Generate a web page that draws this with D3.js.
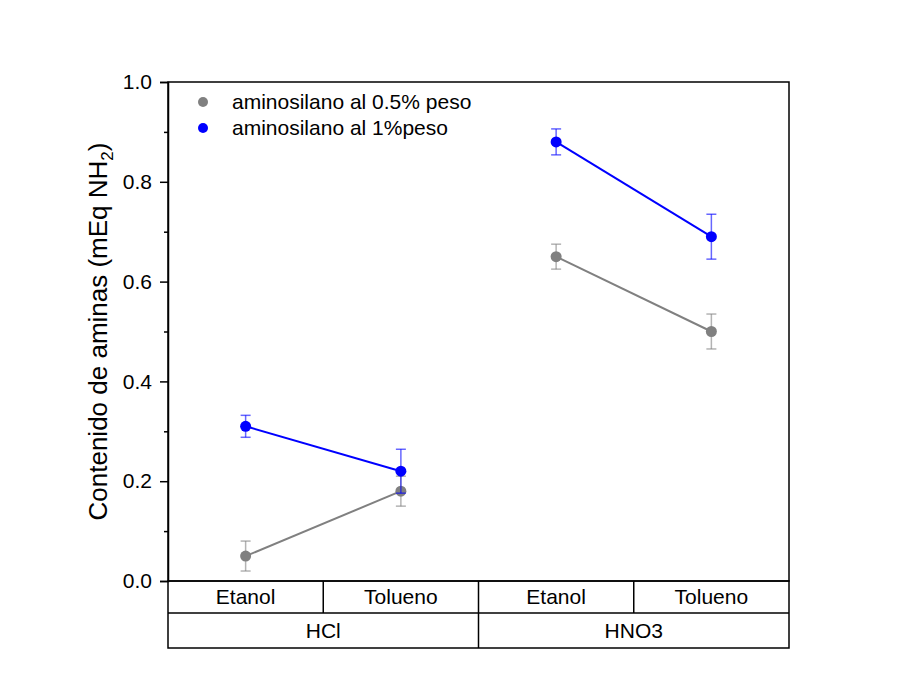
<!DOCTYPE html>
<html><head><meta charset="utf-8">
<script src="https://cdn.jsdelivr.net/npm/d3@7/dist/d3.min.js"></script>
<style>body{margin:0;background:#fff;}svg{display:block;font-family:"Liberation Sans",Arial,sans-serif;}</style>
</head><body><svg id="c" width="900" height="688"></svg>
<script>
const solvents = ["Etanol","Tolueno","Etanol","Tolueno"];
const acids = ["HCl","HNO3"];
const seriesNames = ["aminosilano al 0.5% peso","aminosilano al 1%peso"];
const seriesColors = ["#808080","#0000ff"];
const vals05 = [0.05,0.18,0.65,0.50];
const err05 = [0.03,0.03,0.025,0.035];
const vals1 = [0.31,0.22,0.88,0.69];
const err1 = [0.022,0.044,0.026,0.045];
const yTicks = [0,0.2,0.4,0.6,0.8,1.0];
const yMinor = [0.1,0.3,0.5,0.7,0.9];

const svg = d3.select("#c");
const L=168,R=789,T=82,B=581;
const x = d3.scaleBand().domain(d3.range(4)).range([L,R]);
const y = d3.scaleLinear().domain([0,1]).range([B,T]);

// frame
svg.append("rect").attr("x",L).attr("y",T).attr("width",R-L).attr("height",B-T)
  .attr("fill","none").attr("stroke","#000").attr("stroke-width",1.5);

// y axis
const ya = svg.append("g").attr("transform",`translate(${L},0)`)
  .call(d3.axisLeft(y).tickValues(yTicks).tickFormat(d3.format(".1f")).tickSize(8).tickPadding(8));
ya.select(".domain").attr("stroke-width",1.5);
ya.selectAll(".tick line").attr("stroke-width",1.5);
ya.selectAll("text").attr("font-size",21).attr("fill","#000").attr("font-family","Liberation Sans, Arial, sans-serif");
const ym = svg.append("g").attr("transform",`translate(${L},0)`)
  .call(d3.axisLeft(y).tickValues(yMinor).tickFormat("").tickSize(4));
ym.select(".domain").remove();
ym.selectAll(".tick line").attr("stroke-width",1.5);

// y title
const yt = svg.append("text").attr("transform",`translate(107,${(T+B)/2}) rotate(-90)`)
  .attr("text-anchor","middle").attr("font-size",26).attr("fill","#000");
yt.append("tspan").text("Contenido de aminas (mEq NH");
yt.append("tspan").attr("font-size",17).attr("dy",6).text("2");
yt.append("tspan").attr("dy",-6).text(")");

// table under axis
const row1B=613, row2B=648;
const tbl = svg.append("g").attr("stroke","#000").attr("stroke-width",1.5).attr("fill","none");
tbl.append("rect").attr("x",L).attr("y",B).attr("width",R-L).attr("height",row2B-B);
tbl.append("line").attr("x1",L).attr("x2",R).attr("y1",row1B).attr("y2",row1B);
[1,2,3].forEach(i=>{
  const xx = x(i);
  tbl.append("line").attr("x1",xx).attr("x2",xx).attr("y1",B).attr("y2", i===2?row2B:row1B);
});
svg.selectAll("text.solv").data(solvents).join("text").attr("class","solv")
  .attr("x",(d,i)=>x(i)+x.bandwidth()/2).attr("y",(B+row1B)/2+7)
  .attr("text-anchor","middle").attr("font-size",21).attr("fill","#000").text(d=>d);
svg.selectAll("text.acid").data(acids).join("text").attr("class","acid")
  .attr("x",(d,i)=>x(i*2)+x.bandwidth()).attr("y",(row1B+row2B)/2+7)
  .attr("text-anchor","middle").attr("font-size",21).attr("fill","#000").text(d=>d);

// series
const series = [{v:vals05,e:err05,c:seriesColors[0]},{v:vals1,e:err1,c:seriesColors[1]}];
const cx = i=>x(i)+x.bandwidth()/2;
series.forEach(s=>{
  const g = svg.append("g");
  [[0,1],[2,3]].forEach(pair=>{
    g.append("path").attr("d",d3.line().x(i=>cx(i)).y(i=>y(s.v[i]))(pair))
      .attr("stroke",s.c).attr("stroke-width",2).attr("fill","none");
  });
  s.v.forEach((v,i)=>{
    const eg = g.append("g").attr("stroke",s.c).attr("stroke-opacity",0.6).attr("stroke-width",1.5);
    eg.append("line").attr("x1",cx(i)).attr("x2",cx(i)).attr("y1",y(v-s.e[i])).attr("y2",y(v+s.e[i]));
    [v-s.e[i],v+s.e[i]].forEach(w=>eg.append("line").attr("x1",cx(i)-5).attr("x2",cx(i)+5).attr("y1",y(w)).attr("y2",y(w)));
  });
  g.selectAll("circle").data(s.v).join("circle").attr("cx",(d,i)=>cx(i)).attr("cy",d=>y(d))
    .attr("r",5.5).attr("fill",s.c);
});

// legend
seriesNames.forEach((n,i)=>{
  const ly = 102 + i*26;
  svg.append("circle").attr("cx",203).attr("cy",ly).attr("r",5).attr("fill",seriesColors[i]);
  svg.append("text").attr("x",232).attr("y",ly+7).attr("font-size",21).attr("fill","#000").text(n);
});
</script></body></html>
